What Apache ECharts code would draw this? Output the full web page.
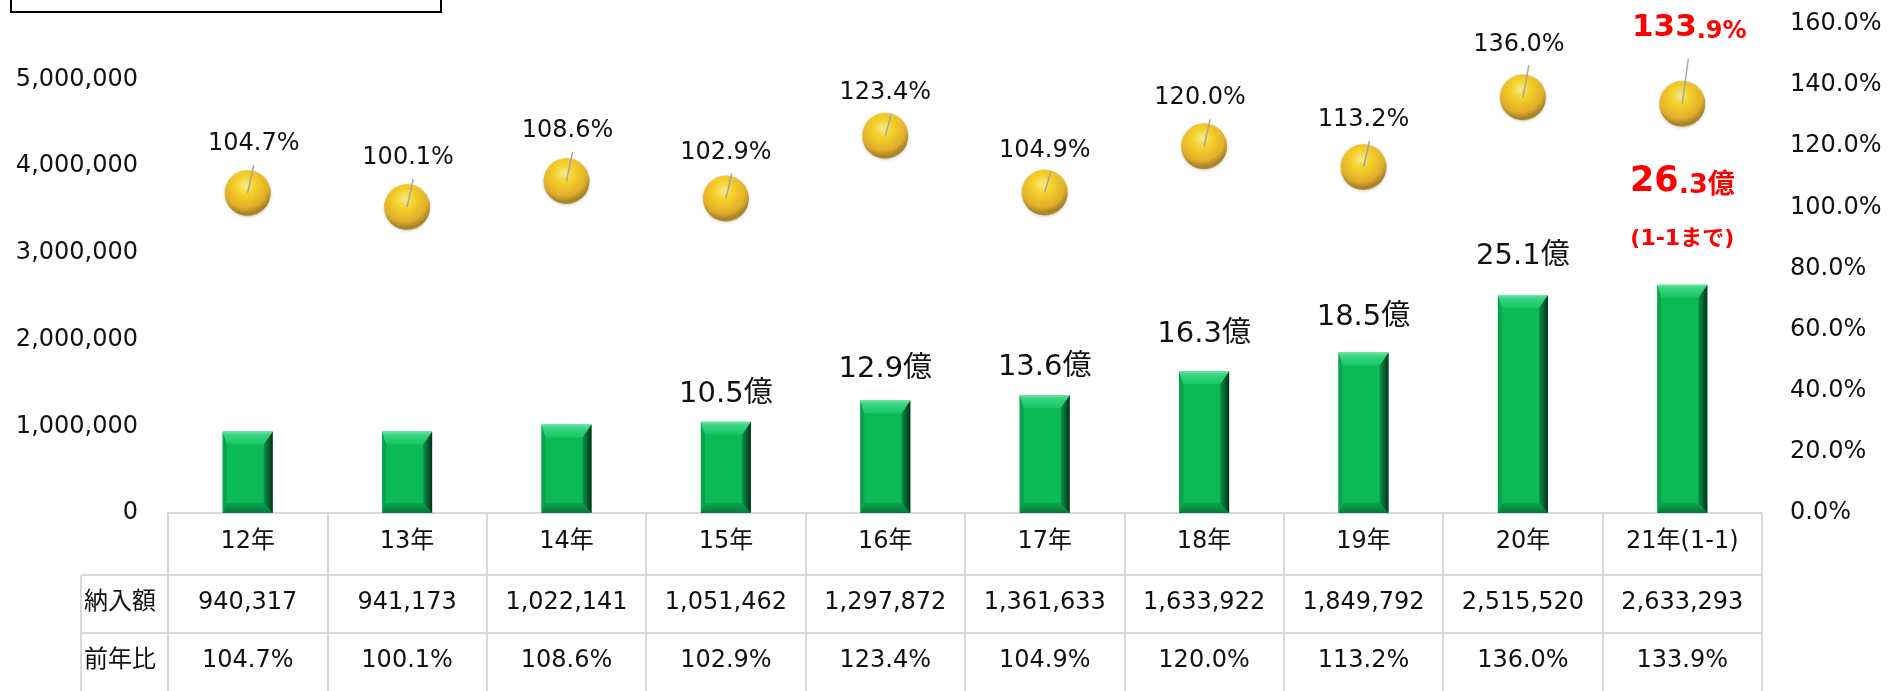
<!DOCTYPE html>
<html>
<head>
<meta charset="utf-8">
<title>納入額推移</title>
<script src="https://cdn.jsdelivr.net/npm/echarts@6/dist/echarts.min.js"></script>
<style>
html,body{margin:0;padding:0;background:#fff;}
#chart{width:1893px;height:691px;}
</style>
</head>
<body>
<div id="chart"></div>
<script>
var years   = ['12年','13年','14年','15年','16年','17年','18年','19年','20年','21年(1-1)'];
var amounts = [940317, 941173, 1022141, 1051462, 1297872, 1361633, 1633922, 1849792, 2515520, 2633293];
var ratios  = [104.7, 100.1, 108.6, 102.9, 123.4, 104.9, 120.0, 113.2, 136.0, 133.9];
// 億 labels as written on the sheet (none for 12-14年)
var okuLabels = ['', '', '', '10.5', '12.9', '13.6', '16.3', '18.5', '25.1', '26.3'];
var rowNames = ['納入額', '前年比'];
var lastNote = '(1-1まで)';

// label placement, px above the mark (hand tuned against the sheet)
var ballLift  = [49, 49, 50, 46, 43, 42, 48, 47, 53, 76];
var ballShift = [6, 1, 1, 0, 0, 0, -4, 0, -4, 7];
var barLift   = [0, 0, 0, 27, 31, 27, 37, 35, 38, 103];

var FONT = "'DejaVu Sans', 'Noto Sans CJK JP', sans-serif";
var last = years.length - 1;

function comma(n){
	return String(n).replace(/\B(?=(\d{3})+(?!\d))/g, ',');
}
function pct(v){ return v.toFixed(1) + '%'; }

var barData = amounts.map(function(v, i){ return [i, v]; });
var ballData = ratios.map(function(v, i){ return [i, v]; });

var dom = document.getElementById('chart');
var myChart = echarts.init(dom);

// 3D looking bar
function renderBar(params, api){
	var i = params.dataIndex;
	var v = api.value(1);
	var top = api.coord([i, v]);
	var base = api.coord([i, 0]);
	var w = 50, x = top[0] - w / 2, y = top[1], h = base[1] - top[1];
	var tb = 13, rs = 9, bb = 10, ls = 4;
	var ix0 = x + ls, ix1 = x + w - rs, iy0 = y + tb, iy1 = y + h - bb;
	var kids = [
		{type:'rect', shape:{x:x, y:y, width:w, height:h}, style:{fill:'#0cb957'}},
		{type:'polygon', shape:{points:[[x,y],[ix0,iy0],[ix0,iy1],[x,y+h]]}, style:{fill:'#0aa04c'}},
		{type:'polygon', shape:{points:[[x,y+h],[x+w,y+h],[ix1,iy1],[ix0,iy1]]},
			style:{fill:new echarts.graphic.LinearGradient(0,0,0,1,[{offset:0,color:'#0aa54f'},{offset:1,color:'#07773a'}])}},
		{type:'polygon', shape:{points:[[x+w,y],[x+w,y+h],[ix1,iy1],[ix1,iy0]]},
			style:{fill:new echarts.graphic.LinearGradient(0,0,1,0,[{offset:0,color:'#0a9546'},{offset:1,color:'#033218'}])}},
		{type:'polygon', shape:{points:[[x,y],[x+w,y],[ix1,iy0],[ix0,iy0]]},
			style:{fill:new echarts.graphic.LinearGradient(0,0,0,1,[{offset:0,color:'#6ee7a4'},{offset:0.25,color:'#3cd684'},{offset:1,color:'#16c463'}])}}
	];
	var lbl = okuLabels[i];
	if(i === last){
		var s = lbl.split('.');
		kids.push({type:'text', x:top[0], y:y - barLift[i], style:{
			text:'{a|' + s[0] + '}{b|.' + s[1] + '億}', align:'center', verticalAlign:'middle',
			rich:{
				a:{fill:'#ff0000', fontSize:35, fontWeight:'bold', fontFamily:FONT, verticalAlign:'bottom'},
				b:{fill:'#ff0000', fontSize:27, fontWeight:'bold', fontFamily:FONT, verticalAlign:'bottom'}
			}}});
		kids.push({type:'text', x:top[0], y:y - 45, style:{
			text:lastNote, align:'center', verticalAlign:'middle',
			fill:'#ff0000', fontSize:22, fontWeight:'bold', fontFamily:FONT}});
	}else if(lbl){
		kids.push({type:'text', x:top[0], y:y - barLift[i], style:{
			text:lbl + '億', align:'center', verticalAlign:'middle',
			fill:'#111', fontSize:29, fontFamily:FONT}});
	}
	return {type:'group', children:kids};
}

// 前年比 label + leader line
function renderBallLabel(params, api){
	var i = params.dataIndex;
	var v = api.value(1);
	var p = api.coord([i, v]);
	var lift = ballLift[i];
	var lineLen = i === last ? 45 : lift - 21;
	var kids = [
		{type:'line', shape:{x1:p[0], y1:p[1], x2:p[0] + 6, y2:p[1] - lineLen}, style:{stroke:'#a6a6a6', lineWidth:1.5}}
	];
	if(i === last){
		var s = pct(v).split('.');
		kids.push({type:'text', x:p[0] + ballShift[i], y:p[1] - lift, style:{
			text:'{a|' + s[0] + '}{b|.' + s[1] + '}', align:'center', verticalAlign:'middle',
			rich:{
				a:{fill:'#ff0000', fontSize:31, fontWeight:'bold', fontFamily:FONT, verticalAlign:'bottom'},
				b:{fill:'#ff0000', fontSize:24, fontWeight:'bold', fontFamily:FONT, verticalAlign:'bottom'}
			}}});
	}else{
		kids.push({type:'text', x:p[0] + ballShift[i], y:p[1] - lift, style:{
			text:pct(v), align:'center', verticalAlign:'middle',
			fill:'#111', fontSize:24, fontFamily:FONT}});
	}
	return {type:'group', children:kids};
}

var gridLine = {color:'#d9d9d9', width:2};

option = {
	animation: false,
	textStyle: {fontFamily: FONT},
	grid: {left:168, right:131, top:24, bottom:178},
	xAxis: [
		{
			type:'category', data:years, position:'bottom',
			axisLine:{onZero:false, lineStyle:gridLine},
			axisTick:{show:true, length:178, interval:0, lineStyle:gridLine},
			axisLabel:{fontSize:24, color:'#111', margin:29, verticalAlign:'middle', interval:0}
		},
		{
			type:'category', data:years, position:'bottom', offset:62,
			axisLine:{onZero:false, lineStyle:gridLine}, axisTick:{show:false},
			axisLabel:{fontSize:24, color:'#111', margin:28, verticalAlign:'middle', interval:0,
				formatter:function(v, idx){ return comma(amounts[idx]); }}
		},
		{
			type:'category', data:years, position:'bottom', offset:120,
			axisLine:{onZero:false, lineStyle:gridLine}, axisTick:{show:false},
			axisLabel:{fontSize:24, color:'#111', margin:28, verticalAlign:'middle', interval:0,
				formatter:function(v, idx){ return pct(ratios[idx]); }}
		}
	],
	yAxis: [
		{
			type:'value', min:0, max:5640000, interval:1000000,
			splitLine:{show:false}, axisLine:{show:false}, axisTick:{show:false},
			axisLabel:{fontSize:24, color:'#111', margin:30, showMaxLabel:false,
				formatter:function(v){ return comma(v); }}
		},
		{
			type:'value', min:0, max:160, interval:20, position:'right',
			splitLine:{show:false}, axisLine:{show:false}, axisTick:{show:false},
			axisLabel:{fontSize:24, color:'#111', margin:28,
				formatter:function(v){ return v.toFixed(1) + '%'; }}
		}
	],
	graphic: [
		{type:'rect', shape:{x:11, y:-30, width:430, height:42}, style:{fill:'#fff', stroke:'#000', lineWidth:2}},
		{type:'line', shape:{x1:81, y1:575, x2:1762, y2:575}, style:{stroke:'#d9d9d9', lineWidth:2}, z:-1},
		{type:'line', shape:{x1:81, y1:633, x2:168, y2:633}, style:{stroke:'#d9d9d9', lineWidth:2}},
		{type:'line', shape:{x1:81, y1:575, x2:81, y2:691}, style:{stroke:'#d9d9d9', lineWidth:2}},
		{type:'text', x:84, y:603, style:{text:rowNames[0], fill:'#111', fontSize:24, fontFamily:FONT, verticalAlign:'middle'}},
		{type:'text', x:84, y:661, style:{text:rowNames[1], fill:'#111', fontSize:24, fontFamily:FONT, verticalAlign:'middle'}}
	],
	series: [
		{
			name:'納入額', type:'custom', xAxisIndex:0, yAxisIndex:0,
			data:barData, renderItem:renderBar, silent:true, z:2
		},
		{
			name:'前年比', type:'scatter', xAxisIndex:0, yAxisIndex:1,
			data:ballData, symbolSize:46, z:3,
			itemStyle:{
				color:{type:'radial', x:0.45, y:0.33, r:0.68, colorStops:[
					{offset:0, color:'#fff07a'},
					{offset:0.3, color:'#ffd200'},
					{offset:0.72, color:'#e6a600'},
					{offset:0.92, color:'#986c00'},
					{offset:1, color:'#b88c12'}
				]},
				shadowBlur:3, shadowColor:'rgba(0,0,0,0.25)', shadowOffsetY:1
			}
		},
		{
			name:'前年比ラベル', type:'custom', xAxisIndex:0, yAxisIndex:1,
			data:ballData, renderItem:renderBallLabel, silent:true, z:4
		}
	]
};

myChart.setOption(option);
window.onresize = myChart.resize;
</script>
</body>
</html>
